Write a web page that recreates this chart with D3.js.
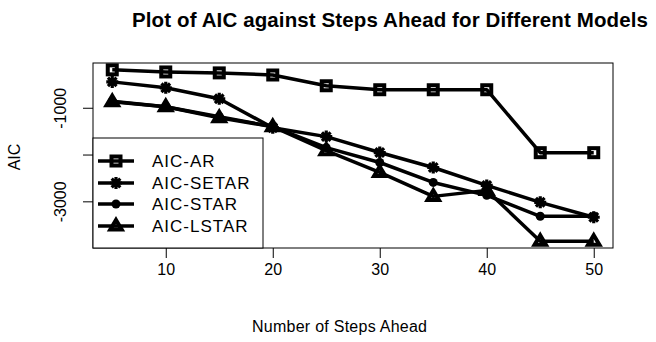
<!DOCTYPE html>
<html>
<head>
<meta charset="utf-8">
<script src="https://cdn.jsdelivr.net/npm/d3@7"></script>
<style>
  html, body { margin: 0; padding: 0; background: #fff; }
  svg { display: block; }
</style>
</head>
<body>
<div id="chart"></div>
<script>
// ---- data ----
const steps = [5, 10, 15, 20, 25, 30, 35, 40, 45, 50]
const aicAR = [-190, -235, -255, -300, -530, -615, -615, -615, -1960, -1960]
const aicSETAR = [-447, -574, -809, -1426, -1617, -1957, -2277, -2660, -3021, -3340]
const aicSTAR = [-860, -979, -1191, -1404, -1851, -2170, -2596, -2872, -3319, -3319]
const aicLSTAR = [-870, -979, -1213, -1404, -1915, -2383, -2894, -2766, -3851, -3851]
const seriesNames = ['AIC-AR', 'AIC-SETAR', 'AIC-STAR', 'AIC-LSTAR']
const xTicks = [10, 20, 30, 40, 50]
const yTicks = [-1000, -2000, -3000]
const yTickLabels = ['-1000', '', '-3000']

const W = 656, H = 342
const box = { left: 93, right: 613, top: 63, bottom: 248 }
const FONT = '"Liberation Sans", Arial, sans-serif'

const series = [
  { name: seriesNames[0], values: aicAR, shape: 'square' },
  { name: seriesNames[1], values: aicSETAR, shape: 'star' },
  { name: seriesNames[2], values: aicSTAR, shape: 'circle' },
  { name: seriesNames[3], values: aicLSTAR, shape: 'triangle' },
]

// R-style 4% padding
function pad(ext) {
  const d = (ext[1] - ext[0]) * 0.04
  return [ext[0] - d, ext[1] + d]
}
const allY = [].concat(aicAR, aicSETAR, aicSTAR, aicLSTAR)

const x = d3.scaleLinear().domain(pad(d3.extent(steps))).range([box.left, box.right])
const y = d3.scaleLinear().domain(pad(d3.extent(allY))).range([box.bottom, box.top])

const svg = d3.select('#chart').append('svg')
  .attr('width', W).attr('height', H)
  .attr('viewBox', `0 0 ${W} ${H}`)

// marker drawing (thick open symbols like R with lwd=3)
function drawMarker(g, shape, cx, cy) {
  if (shape === 'square') {
    g.append('rect')
      .attr('x', cx - 4.5).attr('y', cy - 4.5).attr('width', 9).attr('height', 9)
      .attr('fill', 'none').attr('stroke', '#000').attr('stroke-width', 4)
  } else if (shape === 'star') {
    const r = 6
    const d = r * 0.72
    g.append('path')
      .attr('d', `M${cx - r},${cy}H${cx + r}M${cx},${cy - r}V${cy + r}` +
        `M${cx - d},${cy - d}L${cx + d},${cy + d}M${cx - d},${cy + d}L${cx + d},${cy - d}`)
      .attr('fill', 'none').attr('stroke', '#000').attr('stroke-width', 3.2)
  } else if (shape === 'circle') {
    g.append('circle').attr('cx', cx).attr('cy', cy).attr('r', 4.5).attr('fill', '#000')
  } else if (shape === 'triangle') {
    const s = 6
    g.append('path')
      .attr('d', `M${cx},${cy - s}L${cx + s * 0.95},${cy + s * 0.6}L${cx - s * 0.95},${cy + s * 0.6}Z`)
      .attr('fill', 'none').attr('stroke', '#000').attr('stroke-width', 4)
      .attr('stroke-linejoin', 'miter')
  }
}

// ---- series ----
const line = d3.line().x((d, i) => x(steps[i])).y(d => y(d))
const plotG = svg.append('g').attr('class', 'series')
series.forEach(s => {
  plotG.append('path')
    .attr('d', line(s.values))
    .attr('fill', 'none').attr('stroke', '#000').attr('stroke-width', 3.5)
    .attr('stroke-linejoin', 'round')
  const mg = plotG.append('g')
  s.values.forEach((v, i) => drawMarker(mg, s.shape, x(steps[i]), y(v)))
})

// ---- box ----
svg.append('rect')
  .attr('x', box.left).attr('y', box.top)
  .attr('width', box.right - box.left).attr('height', box.bottom - box.top)
  .attr('fill', 'none').attr('stroke', '#000').attr('stroke-width', 1)

// ---- x axis ----
svg.append('g')
  .attr('transform', `translate(0,${box.bottom})`)
  .call(d3.axisBottom(x).tickValues(xTicks).tickSize(10).tickPadding(6))
  .call(g => {
    g.select('.domain').remove()
    g.selectAll('.tick line').attr('stroke', '#000')
    g.selectAll('.tick text')
      .attr('fill', '#000').attr('font-size', '16px').attr('font-family', FONT)
  })

// ---- y axis (rotated labels like R) ----
svg.append('g')
  .attr('transform', `translate(${box.left},0)`)
  .call(d3.axisLeft(y).tickValues(yTicks).tickSize(10).tickFormat((d, i) => yTickLabels[i]))
  .call(g => {
    g.select('.domain').remove()
    g.selectAll('.tick line').attr('stroke', '#000')
    g.selectAll('.tick text')
      .attr('fill', '#000').attr('font-size', '16px').attr('font-family', FONT)
      .attr('x', null).attr('dy', null)
      .attr('text-anchor', 'middle')
      .attr('transform', 'translate(-27,0) rotate(-90)')
  })

// ---- titles ----
svg.append('text')
  .attr('x', 132).attr('y', 27)
  .attr('font-family', FONT).attr('font-weight', 'bold').attr('font-size', '20.5px')
  .attr('textLength', 516).attr('lengthAdjust', 'spacing')
  .text('Plot of AIC against Steps Ahead for Different Models')

svg.append('text')
  .attr('x', 252).attr('y', 332)
  .attr('font-family', FONT).attr('font-size', '16px')
  .attr('textLength', 175).attr('lengthAdjust', 'spacing')
  .text('Number of Steps Ahead')

svg.append('text')
  .attr('transform', `translate(20,157) rotate(-90)`)
  .attr('text-anchor', 'middle')
  .attr('font-family', FONT).attr('font-size', '16px')
  .text('AIC')

// ---- legend ----
const legend = svg.append('g').attr('class', 'legend')
legend.append('rect')
  .attr('x', box.left).attr('y', 138).attr('width', 170).attr('height', box.bottom - 138)
  .attr('fill', '#fff').attr('stroke', '#000').attr('stroke-width', 1)
const legendY = [161, 183, 204, 226]
series.forEach((s, i) => {
  const ly = legendY[i]
  legend.append('line')
    .attr('x1', 98).attr('x2', 134).attr('y1', ly).attr('y2', ly)
    .attr('stroke', '#000').attr('stroke-width', 3.5)
  drawMarker(legend, s.shape, 116, ly)
  legend.append('text')
    .attr('x', 152).attr('y', ly + 6)
    .attr('font-family', FONT).attr('font-size', '17px')
    .attr('letter-spacing', '1px')
    .text(s.name)
})
</script>
</body>
</html>
